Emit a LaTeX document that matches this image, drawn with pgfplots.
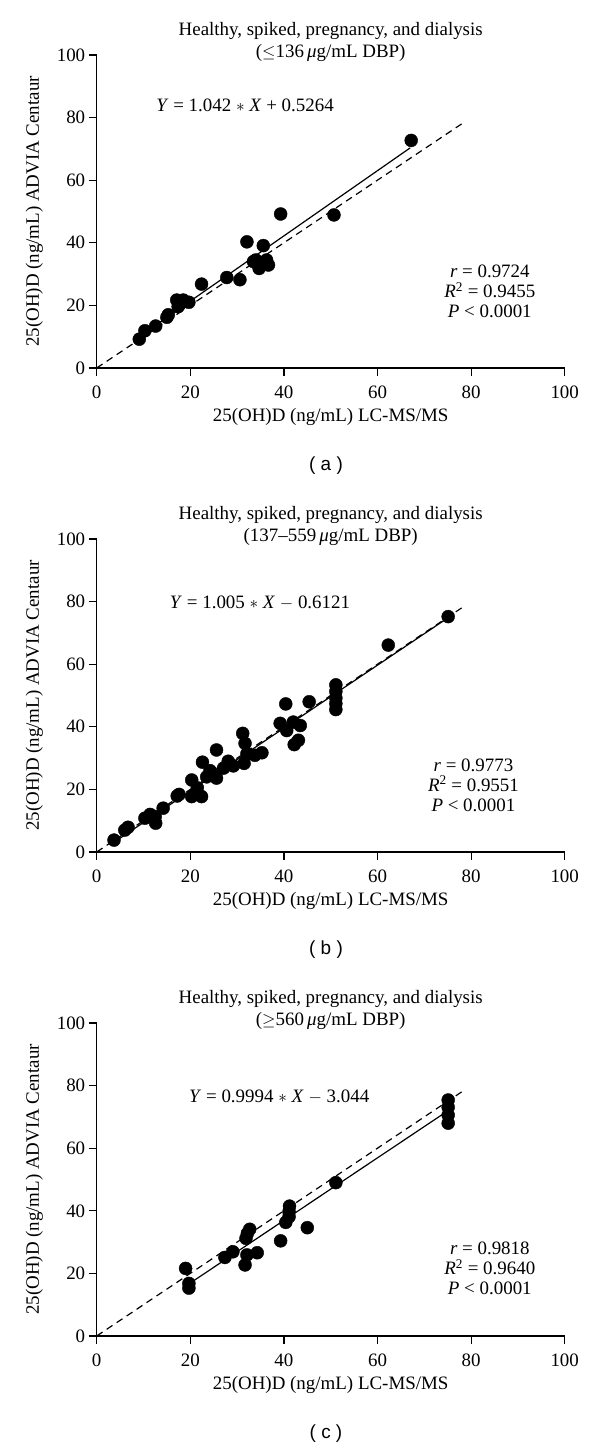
\documentclass[border=0pt]{standalone}
\usepackage{pgfplots}
\pgfplotsset{compat=1.18}
\usepackage{fontspec}
\setmainfont{Liberation Serif}
\newfontfamily\capfont{Liberation Sans}

\pgfplotsset{
  panel/.style={
    scale only axis, width=468bp, height=313bp,
    xmin=0, xmax=100, ymin=0, ymax=100,
    xtick={0,20,...,100}, ytick={0,20,...,100},
    axis lines*=left, tick pos=left, tick align=outside,
    major tick length=8bp,
    axis line style={line width=1.2bp},
    tick style={black, line width=1.2bp},
    font=\fontsize{19}{22}\selectfont,
    /pgf/number format/assume math mode=true,
    xticklabel style={yshift=-6bp},
    xlabel={25(OH)D (ng/mL) LC-MS/MS},
    ylabel={25(OH)D (ng/mL) ADVIA Centaur},
    xlabel style={yshift=-3bp},
    ylabel style={yshift=7bp},
    title style={align=center, at={(0.5,1)}, anchor=south, yshift=-16bp},
    anchor=south west, clip=false,
  },
  dots/.style={only marks, mark=*, mark size=6.5bp, black},
  fit/.style={black, line width=1.2bp, no marks},
  ident/.style={black, line width=1.2bp, dash pattern=on 7bp off 5bp, no marks},
}
\tikzset{stats/.style={align=center, font=\fontsize{19}{20}\selectfont}}

\begin{document}
\begin{tikzpicture}
\path[use as bounding box] (0,0) rectangle (600bp,1454bp);

% (a) <=136 ug/mL DBP
\begin{axis}[panel, at={(96.7bp,1086bp)},
  title={Healthy, spiked, pregnancy, and dialysis\\($\leq$136\,\textit{μ}g/mL DBP)}]
\addplot[ident] coordinates {(0,0) (78,78)};
\addplot[fit] coordinates {(9,9.90) (67,70.34)};
\addplot[dots] coordinates {
  (9.1,9.2) (10.3,11.9) (12.6,13.4) (15.0,16.2) (15.3,17.0)
  (17.1,21.7) (17.4,19.6) (17.9,20.6) (18.5,21.7) (19.7,21.0)
  (22.4,26.8) (27.8,28.9) (30.6,28.2) (32.1,40.3) (33.5,34.0)
  (34.0,34.5) (34.7,31.8) (35.6,39.1) (36.3,34.5) (36.7,32.9)
  (39.3,49.2) (50.7,48.9) (67.2,72.7)};
\node at (axis cs:31.7,84) {\textit{Y} = 1.042 $\ast$ \textit{X} + 0.5264};
\node[stats] at (axis cs:84,24.4) {\textit{r} = 0.9724\\\textit{R}\textsuperscript{2} = 0.9455\\\textit{P} < 0.0001};
\end{axis}

% (b) 137-559 ug/mL DBP
\begin{axis}[panel, at={(96.7bp,602bp)},
  title={Healthy, spiked, pregnancy, and dialysis\\(137–559\,\textit{μ}g/mL DBP)}]
\addplot[ident] coordinates {(0,0) (78,78)};
\addplot[fit] coordinates {(3.7,3.11) (75,74.76)};
\addplot[dots] coordinates {
  (3.7,3.8) (6.0,7.0) (6.7,7.9) (10.3,10.8) (11.4,12.0)
  (12.5,11.3) (12.6,9.2) (14.2,14.0) (17.2,17.9) (17.6,18.4)
  (20.3,23.0) (20.3,17.7) (21.5,20.5) (22.4,17.7) (22.6,28.7)
  (23.5,24.0) (24.2,26.0) (24.5,25.5) (25.6,32.6) (25.6,23.6)
  (27.1,26.8) (28.1,29.0) (29.2,27.5) (31.2,37.9) (31.7,34.7)
  (31.5,28.3) (32.1,31.4) (33.8,30.9) (35.3,31.7) (39.2,41.1)
  (40.4,47.3) (40.6,38.8) (42.0,41.5) (43.5,40.4) (42.2,34.3)
  (43.1,35.7) (45.4,48.0) (51.1,53.4) (51.1,51.3) (51.1,49.2)
  (51.1,47.4) (51.1,45.5) (62.3,66.1) (75.1,75.2)};
\node at (axis cs:34.9,79.5) {\textit{Y} = 1.005 $\ast$ \textit{X} $-$ 0.6121};
\node[stats] at (axis cs:80.5,21.4) {\textit{r} = 0.9773\\\textit{R}\textsuperscript{2} = 0.9551\\\textit{P} < 0.0001};
\end{axis}

% (c) >=560 ug/mL DBP
\begin{axis}[panel, at={(96.7bp,118bp)},
  title={Healthy, spiked, pregnancy, and dialysis\\($\geq$560\,\textit{μ}g/mL DBP)}]
\addplot[ident] coordinates {(0,0) (78,78)};
\addplot[fit] coordinates {(19,15.94) (75,71.91)};
\addplot[dots] coordinates {
  (19.0,21.6) (19.7,16.8) (19.7,15.3) (27.4,25.1) (29.1,26.9)
  (31.7,22.7) (32.1,25.9) (34.3,26.6) (31.9,31.2) (32.2,32.8)
  (32.7,34.1) (39.3,30.4) (40.4,36.3) (41.1,38.1) (41.1,39.7)
  (41.2,41.5) (45.0,34.6) (51.1,49.0)
  (75.1,75.4) (75.1,73.1) (75.1,70.6) (75.1,68.0)};
\node at (axis cs:39,76.5) {\textit{Y} = 0.9994 $\ast$ \textit{X} $-$ 3.044};
\node[stats] at (axis cs:84,21.6) {\textit{r} = 0.9818\\\textit{R}\textsuperscript{2} = 0.9640\\\textit{P} < 0.0001};
\end{axis}

\node[font={\capfont\fontsize{19}{22}\selectfont}] at (326bp,988bp) {( a )};
\node[font={\capfont\fontsize{19}{22}\selectfont}] at (326bp,504bp) {( b )};
\node[font={\capfont\fontsize{19}{22}\selectfont}] at (326bp,20bp) {( c )};
\end{tikzpicture}
\end{document}
